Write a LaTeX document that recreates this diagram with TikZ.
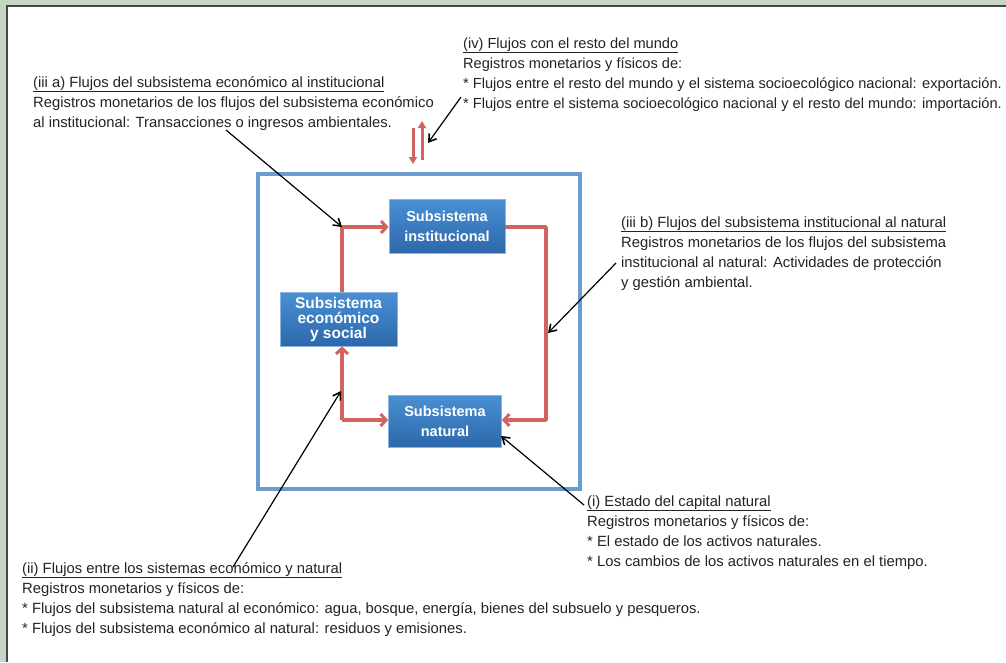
\documentclass[tikz,border=0pt]{standalone}
\usepackage{fontspec}
\setmainfont{Liberation Sans}
\usetikzlibrary{arrows.meta}
\definecolor{framegreen}{RGB}{196,214,196}
\definecolor{frameline}{RGB}{70,70,70}
\definecolor{outerblue}{RGB}{108,155,208}
\definecolor{boxtop}{RGB}{74,144,212}
\definecolor{boxbot}{RGB}{44,104,170}
\definecolor{boxedge}{RGB}{140,180,225}
\definecolor{flowred}{RGB}{210,100,96}
\definecolor{txt}{RGB}{35,35,35}
\tikzset{
  sysbox/.style={rectangle, draw=boxedge, line width=0.8pt, top color=boxtop, bottom color=boxbot,
    text=white, font=\fontsize{14.5}{20}\selectfont\bfseries, align=center, inner sep=0pt},
  flow/.style={draw=flowred, line width=3.5pt, line join=round},
  flowtip/.style={-{Straight Barb[length=5.5pt,width=12pt,line width=3pt]}},
  note/.style={anchor=base west, inner sep=0pt, align=left, text=txt, font=\fontsize{14.8}{20}\selectfont},
  pointer/.style={draw=black, line width=1.2pt, -{Straight Barb[length=7pt,width=9pt,line width=1.6pt]}},
}
\begin{document}
\begin{tikzpicture}[x=1pt,y=-1pt]
\useasboundingbox (0,0) rectangle (1006,662);
\fill[framegreen] (0,0) rectangle (1006,662);
\fill[white] (7,6) rectangle (1006,662);
\draw[frameline, line width=1.5pt] (7,662) -- (7,6) -- (1006,6);
% outer square
\node[draw=outerblue, line width=3.5pt, minimum width=322pt, minimum height=315pt, inner sep=0pt] (outer) at (419,331.5) {};
% subsystem boxes
\node[sysbox, minimum width=116pt, minimum height=54pt] (inst) at (447,226) {Subsistema\\institucional};
\node[sysbox, minimum width=117pt, minimum height=54pt, font=\fontsize{15.5}{15}\selectfont\bfseries] (econ) at (338.5,319) {Subsistema\\económico\\y social};
\node[sysbox, minimum width=113pt, minimum height=52pt] (nat) at (445,421) {Subsistema\\natural};
% red flows
\coordinate (c1) at (342,227);
\coordinate (c2) at (546,227);
\coordinate (c3) at (546,420);
\coordinate (c4) at (342,420);
\draw[flow, flowtip] (econ.north -| c1) -- (c1) -- (c1 -| inst.west);
\draw[flow, flowtip] (c2 -| inst.east) -- (c2) -- (c3) -- (c3 -| nat.east);
\draw[flow, flowtip] (c4) -- (c4 -| nat.west);
\draw[flow, flowtip] (c4) -- (econ.south -| c4);
% world flows
\coordinate (w1) at (413,128);
\coordinate (w2) at (413,164);
\coordinate (w3) at (422,160);
\coordinate (w4) at (422,121);
\coordinate (w5) at (428,143);
\draw[draw=flowred, line width=3pt, -{Triangle[length=7pt,width=8pt]}] (w1) -- (w2);
\draw[draw=flowred, line width=3pt, -{Triangle[length=7pt,width=8pt]}] (w3) -- (w4);
% texts (anchor = baseline of last line)
\node[note, font=\fontsize{14.6}{20}\selectfont] (tiv) at (463,108) {\underline{(iv) Flujos con el resto del mundo}\\Registros monetarios y físicos de:\\* Flujos entre el resto del mundo y el sistema socioecológico nacional: exportación.\\* Flujos entre el sistema socioecológico nacional y el resto del mundo: importación.};
\node[note] (tiiia) at (33,127) {\underline{(iii a) Flujos del subsistema económico al institucional}\\Registros monetarios de los flujos del subsistema económico\\al institucional: Transacciones o ingresos ambientales.};
\node[note] (tiiib) at (621,287) {\underline{(iii b) Flujos del subsistema institucional al natural}\\Registros monetarios de los flujos del subsistema\\institucional al natural: Actividades de protección\\y gestión ambiental.};
\node[note] (ti) at (587,566) {\underline{(i) Estado del capital natural}\\Registros monetarios y físicos de:\\* El estado de los activos naturales.\\* Los cambios de los activos naturales en el tiempo.};
\node[note] (tii) at (22,633) {\underline{(ii) Flujos entre los sistemas económico y natural}\\Registros monetarios y físicos de:\\* Flujos del subsistema natural al económico: agua, bosque, energía, bienes del subsuelo y pesqueros.\\* Flujos del subsistema económico al natural: residuos y emisiones.};
% pointers
\coordinate (p1) at (226,130);
\coordinate (p2) at (461,97);
\coordinate (p3) at (616,263);
\coordinate (p4) at (584,505);
\coordinate (p5) at (233,567);
\coordinate (q3) at (548,333);
\coordinate (q4) at (501,436);
\coordinate (q5) at (341,391);
\draw[pointer] (p1) -- (c1);
\draw[pointer] (p2) -- (w5);
\draw[pointer] (p3) -- (q3);
\draw[pointer] (p4) -- (q4);
\draw[pointer] (p5) -- (q5);
\end{tikzpicture}
\end{document}
